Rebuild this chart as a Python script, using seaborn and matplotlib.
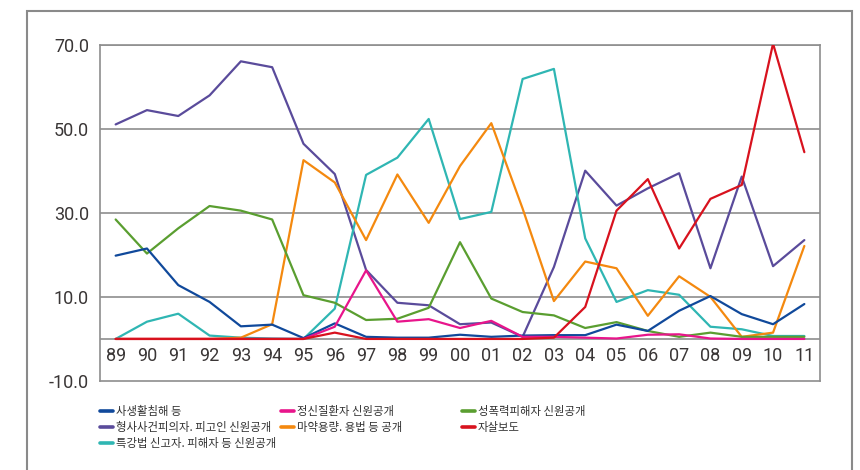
import matplotlib
matplotlib.use('Agg')
import matplotlib.pyplot as plt
from matplotlib.lines import Line2D
from matplotlib.patches import Rectangle
import seaborn as sns
import pandas as pd

years = ['89', '90', '91', '92', '93', '94', '95', '96', '97', '98', '99', '00',
         '01', '02', '03', '04', '05', '06', '07', '08', '09', '10', '11']

privacy = [19.8, 21.5, 12.8, 8.8, 3.0, 3.4, 0.2, 3.7, 0.5, 0.3, 0.3, 1.0,
           0.5, 0.8, 0.9, 0.9, 3.4, 1.9, 6.7, 10.2, 5.9, 3.5, 8.3]
suspect = [51.0, 54.4, 53.0, 57.9, 66.0, 64.6, 46.4, 39.2, 16.4, 8.6, 8.0, 3.5,
           3.9, 0.5, 17.1, 40.0, 31.7, 35.8, 39.4, 16.8, 38.6, 17.3, 23.5]
special = [0.0, 4.1, 6.0, 0.8, 0.3, 0.1, 0.0, 7.2, 39.0, 43.1, 52.3, 28.5,
           30.2, 61.8, 64.2, 23.9, 8.8, 11.6, 10.5, 2.9, 2.3, 0.7, 0.7]
mental = [0.0, 0.0, 0.0, 0.0, 0.0, 0.0, 0.0, 2.9, 16.3, 4.1, 4.7, 2.6,
          4.3, 0.5, 0.5, 0.3, 0.1, 1.0, 1.1, 0.1, 0.0, 0.0, 0.0]
drug = [0.0, 0.0, 0.0, 0.0, 0.3, 3.5, 42.5, 37.2, 23.5, 39.1, 27.6, 41.1,
        51.3, 31.0, 9.0, 18.4, 16.8, 5.5, 14.9, 10.0, 0.5, 1.5, 22.1]
sexual = [28.4, 20.3, 26.3, 31.6, 30.5, 28.4, 10.4, 8.6, 4.5, 4.8, 7.4, 23.0,
          9.6, 6.4, 5.6, 2.6, 4.0, 1.9, 0.5, 1.5, 0.5, 0.5, 0.5]
suicide = [0.0, 0.0, 0.0, 0.0, 0.0, 0.0, 0.0, 1.5, 0.0, 0.0, 0.0, 0.0,
           0.0, 0.0, 0.3, 7.6, 30.5, 38.0, 21.5, 33.3, 36.6, 70.2, 44.4]

series = {
    '사생활침해 등': privacy,
    '형사사건피의자. 피고인 신원공개': suspect,
    '특강법 신고자. 피해자 등 신원공개': special,
    '정신질환자 신원공개': mental,
    '마약용량. 용법 등 공개': drug,
    '성폭력피해자 신원공개': sexual,
    '자살보도': suicide,
}
colors = {
    '사생활침해 등': '#10499b',
    '형사사건피의자. 피고인 신원공개': '#5a4b9b',
    '특강법 신고자. 피해자 등 신원공개': '#2fb6b3',
    '정신질환자 신원공개': '#e8158b',
    '마약용량. 용법 등 공개': '#f4890f',
    '성폭력피해자 신원공개': '#5a9e30',
    '자살보도': '#d8121e',
}
draw_order = ['형사사건피의자. 피고인 신원공개', '특강법 신고자. 피해자 등 신원공개',
              '마약용량. 용법 등 공개', '성폭력피해자 신원공개', '사생활침해 등',
              '정신질환자 신원공개', '자살보도']
y_ticks = [-10, 10, 30, 50, 70]

rows = []
for name, vals in series.items():
    for i, v in enumerate(vals):
        rows.append({'idx': i, 'value': v, 'series': name})
df = pd.DataFrame(rows)

sns.set_theme(style='white')
plt.rcParams['font.family'] = ['Roboto', 'Noto Sans CJK KR', 'DejaVu Sans']

fig = plt.figure(figsize=(8.6, 4.7), dpi=100)
ax = fig.add_axes([100 / 860, 1 - 381 / 470, 720 / 860, (381 - 44.5) / 470])

grid_c = '#8e8e8e'
for t in y_ticks[1:] + [0]:
    ax.axhline(t, color=grid_c, lw=1.2, zorder=1)

sns.lineplot(data=df, x='idx', y='value', hue='series', hue_order=draw_order,
             palette=colors, linewidth=1.6, legend=False, ax=ax, zorder=3)

ax.set_xlim(-0.5, len(years) - 0.5)
ax.set_ylim(-10, 70)
ax.set_yticks(y_ticks)
ax.set_yticklabels([f'{t:.1f}' for t in y_ticks], fontsize=13, color='#3a3636')
ax.tick_params(axis='y', length=0, pad=8)
ax.set_xticks([])
ax.set_xlabel('')
ax.set_ylabel('')
for s in ax.spines.values():
    s.set_color(grid_c)
    s.set_linewidth(1.2)

for i, lab in enumerate(years):
    ax.text(i, -1.8, lab, ha='center', va='top', fontsize=13, color='#3a3636')

# outer frame
fig.patches.append(Rectangle((27 / 860, -0.05), (852 - 27) / 860, 0.05 + 1 - 11 / 470,
                             transform=fig.transFigure, fill=False,
                             edgecolor='#8a8a8a', lw=1.5))

# legend, three columns placed separately
legend_cols = [
    (['사생활침해 등', '형사사건피의자. 피고인 신원공개', '특강법 신고자. 피해자 등 신원공개'], 100),
    (['정신질환자 신원공개', '마약용량. 용법 등 공개'], 281),
    (['성폭력피해자 신원공개', '자살보도'], 462),
]
for names, x0 in legend_cols:
    handles = [Line2D([], [], color=colors[n], lw=2.6) for n in names]
    leg = fig.legend(handles, names, loc='upper left',
                     bbox_to_anchor=(x0 / 860, 1 - 406 / 470),
                     frameon=False, fontsize=8.2, handlelength=1.1,
                     handletextpad=0.3, labelspacing=0.42, borderpad=0,
                     borderaxespad=0)
    for t in leg.get_texts():
        t.set_color('#333333')
        t.set_family(['Noto Sans CJK KR', 'DejaVu Sans'])

fig.savefig('out.png', dpi=100)
